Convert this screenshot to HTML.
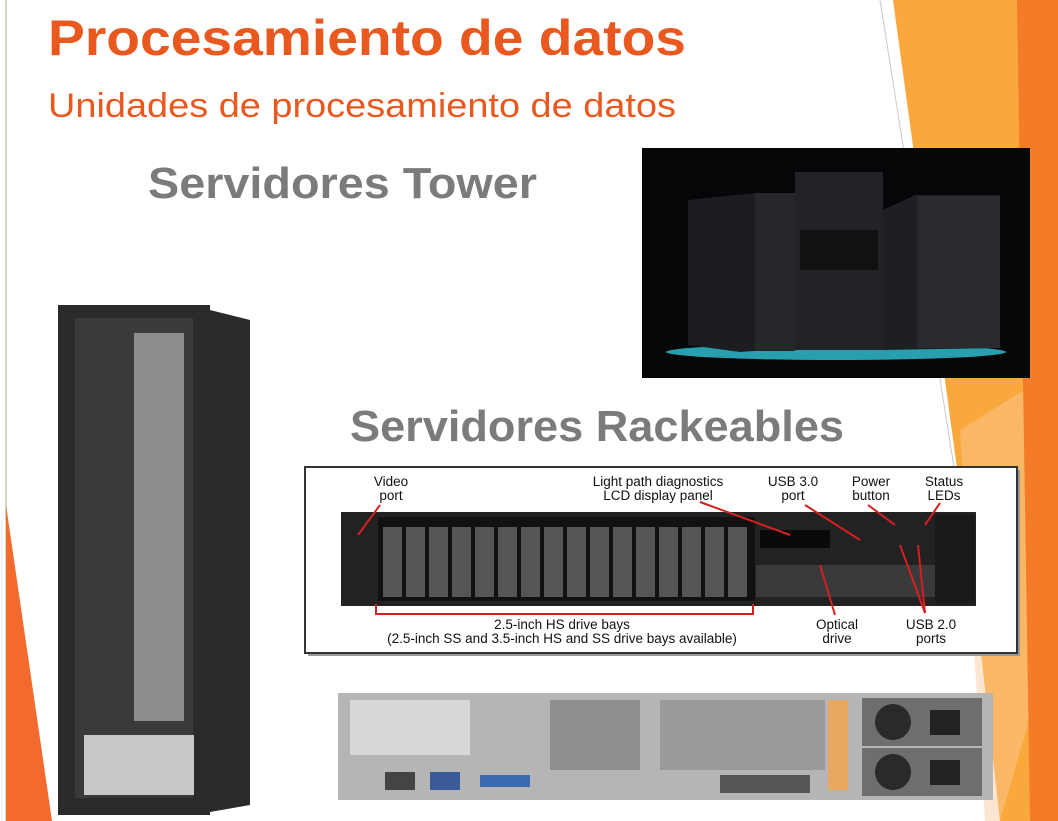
<!DOCTYPE html>
<html><head><meta charset="utf-8"><style>
html,body{margin:0;padding:0;background:#fff;}
svg{display:block}
text{font-family:"Liberation Sans",sans-serif}
</style></head><body>
<svg width="1058" height="821" viewBox="0 0 1058 821" xmlns="http://www.w3.org/2000/svg">
<rect width="1058" height="821" fill="#fff"/>
<polygon points="893,0 1058,0 1058,821 1000,821 975,600" fill="#f9a93c"/>
<polygon points="960,430 1040,380 1035,700 1000,821 985,821" fill="#fbc79a" opacity="0.45"/>
<polygon points="1017,0 1058,0 1058,821 1030,821" fill="#f47b28"/>
<line x1="880" y1="0" x2="975" y2="600" stroke="#c8c8c8" stroke-width="1"/>
<line x1="6" y1="0" x2="6" y2="821" stroke="#c9c9a8" stroke-width="1.5"/>
<polygon points="6,505 6,821 52,821" fill="#f26a2e"/>
<text x="48" y="55" font-size="50" font-weight="bold" fill="#e9591f" textLength="638" lengthAdjust="spacingAndGlyphs">Procesamiento de datos</text>
<text x="48" y="117" font-size="34" fill="#e9591f" textLength="628" lengthAdjust="spacingAndGlyphs">Unidades de procesamiento de datos</text>
<text x="148" y="198" font-size="44" font-weight="bold" fill="#7b7b7b" textLength="389" lengthAdjust="spacingAndGlyphs">Servidores Tower</text>
<text x="350" y="441" font-size="44" font-weight="bold" fill="#7b7b7b" textLength="494" lengthAdjust="spacingAndGlyphs">Servidores Rackeables</text>
<rect x="642" y="148" width="388" height="230" fill="#050608"/>
<ellipse cx="836" cy="352" rx="170" ry="8" fill="#2fc6d8" opacity="0.8"/>
<polygon points="688,200 755,193 795,205 795,348 740,352 688,345" fill="#1c1d20"/>
<rect x="755" y="193" width="40" height="158" fill="#26272a"/>
<rect x="795" y="172" width="88" height="178" fill="#222326"/>
<rect x="800" y="230" width="78" height="40" fill="#111"/>
<polygon points="883,210 915,195 1000,195 1000,348 883,350" fill="#1e1f22"/>
<rect x="917" y="196" width="83" height="152" fill="#2a2b2e"/>
<polygon points="210,310 250,320 250,805 210,812" fill="#2a2a2a"/>
<rect x="58" y="305" width="152" height="510" fill="#2b2b2b"/>
<rect x="75" y="318" width="118" height="480" fill="#3a3a3a"/>
<rect x="134" y="333" width="50" height="388" fill="#8c8c8c"/>
<rect x="84" y="735" width="110" height="60" fill="#c8c8c8"/>
<rect x="308" y="470" width="712" height="186" fill="#999"/>
<rect x="305" y="467" width="712" height="186" fill="#fff" stroke="#333" stroke-width="2"/>
<rect x="341" y="512" width="635" height="94" fill="#222"/>
<rect x="378" y="517" width="377" height="84" fill="#111"/>
<g fill="#555">
<rect x="383" y="527" width="19" height="70"/><rect x="406" y="527" width="19" height="70"/><rect x="429" y="527" width="19" height="70"/><rect x="452" y="527" width="19" height="70"/><rect x="475" y="527" width="19" height="70"/><rect x="498" y="527" width="19" height="70"/><rect x="521" y="527" width="19" height="70"/><rect x="544" y="527" width="19" height="70"/><rect x="567" y="527" width="19" height="70"/><rect x="590" y="527" width="19" height="70"/><rect x="613" y="527" width="19" height="70"/><rect x="636" y="527" width="19" height="70"/><rect x="659" y="527" width="19" height="70"/><rect x="682" y="527" width="19" height="70"/><rect x="705" y="527" width="19" height="70"/><rect x="728" y="527" width="19" height="70"/>
</g>
<rect x="760" y="530" width="70" height="18" fill="#0a0a0a"/>
<rect x="756" y="565" width="180" height="32" fill="#3a3a3a"/>
<rect x="935" y="515" width="40" height="88" fill="#1a1a1a"/>
<g stroke="#d42020" stroke-width="2" fill="none">
<polyline points="376,604 376,614 753,614 753,604"/>
<line x1="380" y1="505" x2="358" y2="535"/>
<line x1="700" y1="502" x2="790" y2="535"/>
<line x1="805" y1="505" x2="860" y2="540"/>
<line x1="868" y1="505" x2="895" y2="525"/>
<line x1="940" y1="503" x2="925" y2="525"/>
<line x1="835" y1="615" x2="820" y2="565"/>
<line x1="925" y1="613" x2="900" y2="545"/>
<line x1="925" y1="613" x2="918" y2="545"/>
</g>
<g font-size="13.5" fill="#111" text-anchor="middle">
<text x="391" y="486">Video</text><text x="391" y="500">port</text>
<text x="658" y="486">Light path diagnostics</text><text x="658" y="500">LCD display panel</text>
<text x="793" y="486">USB 3.0</text><text x="793" y="500">port</text>
<text x="871" y="486">Power</text><text x="871" y="500">button</text>
<text x="944" y="486">Status</text><text x="944" y="500">LEDs</text>
<text x="562" y="629">2.5-inch HS drive bays</text><text x="562" y="643">(2.5-inch SS and 3.5-inch HS and SS drive bays available)</text>
<text x="837" y="629">Optical</text><text x="837" y="643">drive</text>
<text x="931" y="629">USB 2.0</text><text x="931" y="643">ports</text>
</g>
<rect x="338" y="693" width="655" height="107" fill="#b5b5b5"/>
<rect x="350" y="700" width="120" height="55" fill="#d8d8d8"/>
<rect x="550" y="700" width="90" height="70" fill="#8f8f8f"/>
<rect x="660" y="700" width="165" height="70" fill="#9a9a9a"/>
<rect x="828" y="700" width="20" height="90" fill="#e8a860"/>
<rect x="862" y="698" width="120" height="48" fill="#6e6e6e"/>
<rect x="862" y="748" width="120" height="48" fill="#6e6e6e"/>
<circle cx="893" cy="722" r="18" fill="#2a2a2a"/><circle cx="893" cy="772" r="18" fill="#2a2a2a"/>
<rect x="930" y="710" width="30" height="25" fill="#222"/><rect x="930" y="760" width="30" height="25" fill="#222"/>
<rect x="385" y="772" width="30" height="18" fill="#444"/><rect x="430" y="772" width="30" height="18" fill="#3a5a9a"/>
<rect x="480" y="775" width="50" height="12" fill="#3a6ab0"/>
<rect x="720" y="775" width="90" height="18" fill="#555"/>
</svg>
</body></html>
